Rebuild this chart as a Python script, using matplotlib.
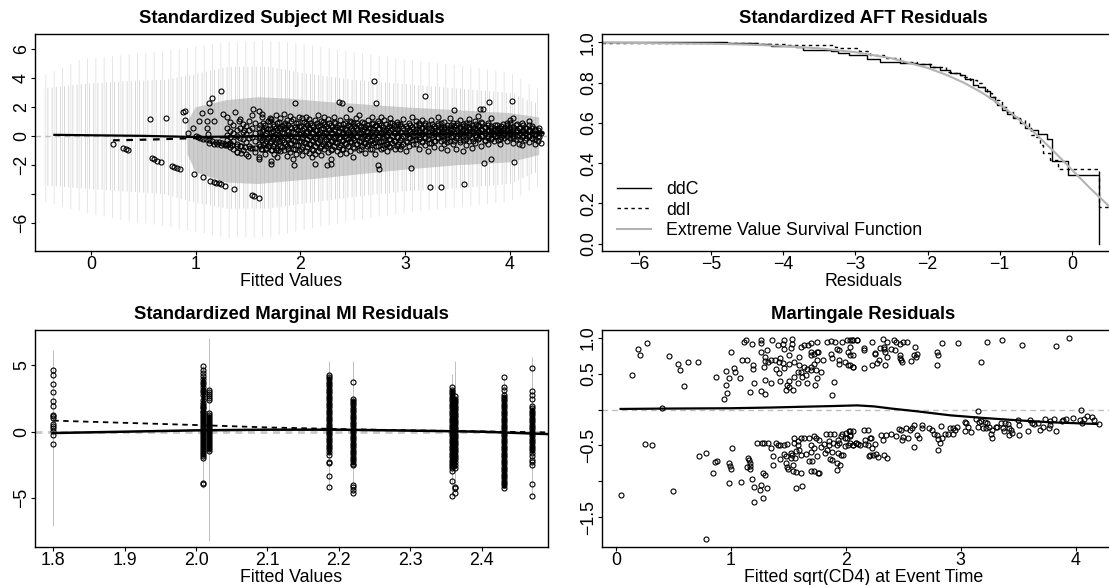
import numpy as np
import matplotlib
matplotlib.use('Agg')
import matplotlib.pyplot as plt

plt.rcParams['font.family'] = ['Liberation Sans', 'DejaVu Sans']
plt.rcParams['hatch.linewidth'] = 0.6
FS = 12.8
GREY = '#bebebe'

# ---------------- 1. Subject MI residuals (top left) ----------------
# grey imputed residual cloud, read as envelopes
cloud_x = [-0.45, -0.1, 0.3, 0.7, 1.0, 1.3, 1.7, 2.0, 2.5, 3.0, 3.5, 4.0, 4.28]
outer_lo = [-4.5, -5.2, -5.8, -6.2, -6.6, -7.0, -7.0, -6.5, -5.8, -5.3, -4.9, -4.5, -3.4]
outer_hi = [4.2, 5.3, 5.6, 5.9, 6.2, 6.5, 6.6, 6.4, 5.8, 5.3, 4.9, 4.4, 3.2]
mid_lo = [-3.4, -3.6, -3.8, -4.0, -4.6, -5.0, -5.0, -4.7, -4.2, -3.8, -3.6, -3.3, -2.4]
mid_hi = [3.3, 3.6, 3.8, 3.9, 4.3, 4.8, 4.8, 4.4, 3.9, 3.6, 3.3, 3.0, 2.2]
core_x = [0.92, 1.0, 1.3, 1.6, 1.9, 2.2, 2.6, 3.0, 3.5, 4.0, 4.28]
core_lo = [-1.2, -2.5, -3.2, -3.3, -3.1, -2.9, -2.6, -2.3, -2.0, -1.8, -1.3]
core_hi = [1.0, 2.0, 2.5, 2.7, 2.6, 2.4, 2.2, 2.0, 1.8, 1.6, 1.3]

# observed residual blob, one x per column
blob_x = [1.30, 1.33, 1.36, 1.39, 1.42, 1.45, 1.48, 1.51, 1.54, 1.57,
          1.60, 1.63, 1.66, 1.69, 1.72, 1.75, 1.78, 1.81, 1.84, 1.87,
          1.90, 1.93, 1.96, 1.99, 2.02, 2.05, 2.08, 2.11, 2.14, 2.17,
          2.20, 2.23, 2.26, 2.29, 2.32, 2.35, 2.38, 2.41, 2.44, 2.47,
          2.50, 2.53, 2.56, 2.59, 2.62, 2.65, 2.68, 2.71, 2.74, 2.77,
          2.80, 2.83, 2.86, 2.89, 2.92, 2.95, 2.98, 3.01, 3.04, 3.07,
          3.10, 3.13, 3.16, 3.19, 3.22, 3.25, 3.28, 3.31, 3.34, 3.37,
          3.40, 3.43, 3.46, 3.49, 3.52, 3.55, 3.58, 3.61, 3.64, 3.67,
          3.70, 3.73, 3.76, 3.79, 3.82, 3.85, 3.88, 3.91, 3.94, 3.97,
          4.00, 4.03, 4.06, 4.09, 4.12, 4.15, 4.18, 4.21, 4.24, 4.27, 4.30]
blob_y = [
    [0.55, 0.10, -0.25, -0.60], [1.00, 0.35, -0.05, -0.45, -0.75], [0.80, 0.20, -0.30, -0.85],
    [0.45, 0.05, -0.55, -1.06], [1.20, 0.60, -0.15, -0.70], [0.30, -0.20, -0.95, 0.85],
    [0.70, 0.15, -0.40, -1.25], [1.05, 0.40, -0.10, -0.65], [0.55, -0.05, -0.80, 1.45],
    [0.90, 0.25, -0.35, -1.10], [0.60, 0.05, -0.55, -1.45], [1.30, 0.35, -0.25, -0.90],
    [0.80, 0.10, -0.45, -1.20], [0.50, -0.15, -0.70, 1.05], [1.20, 0.30, -0.30, -0.95, -1.70],
    [0.70, 0.00, -0.55, -1.25], [0.95, 0.40, -0.20, -0.80, -1.45], [1.25, 0.55, -0.05, -0.65, -1.05],
    [0.80, 0.20, -0.40, -0.95, 1.55], [1.10, 0.45, -0.15, -0.70, -1.35], [0.65, 0.05, -0.50, -1.10, 1.40],
    [1.20, 0.30, -0.25, -0.85, -1.55], [0.90, 0.50, -0.05, -0.60, -1.20], [1.35, 0.70, 0.15, -0.35, -0.95],
    [1.25, 0.40, -0.15, -0.75, -1.30], [0.95, 0.25, -0.45, -1.00, 1.30], [1.20, 0.60, 0.00, -0.55, -1.15],
    [0.80, 0.30, -0.25, -0.85, -1.45], [1.10, 0.45, -0.10, -0.65, -1.20], [0.70, 0.15, -0.40, -1.00, 1.45],
    [1.05, 0.50, -0.05, -0.70, -1.30], [0.85, 0.25, -0.30, -0.90, 1.30], [1.20, 0.60, 0.05, -0.50, -1.10],
    [0.75, 0.20, -0.35, -0.95, -1.55], [1.00, 0.40, -0.15, -0.70, 1.35], [0.65, 0.10, -0.45, -1.05],
    [1.15, 0.55, -0.05, -0.60, -1.25], [0.85, 0.30, -0.25, -0.85], [1.30, 0.45, -0.10, -0.55, -1.15],
    [0.70, 0.15, -0.40, -1.00, 1.05], [0.95, 0.40, -0.15, -0.75, -1.40], [1.25, 0.60, 0.05, -0.50],
    [0.80, 0.25, -0.30, -0.95, 1.45], [1.00, 0.45, -0.10, -0.65], [0.65, 0.10, -0.45, -1.15],
    [1.15, 0.55, 0.00, -0.55], [0.85, 0.30, -0.25, -0.85, 1.35], [0.70, 0.15, -0.40, -1.20],
    [1.05, 0.50, -0.05, -0.70], [0.80, 0.25, -0.30, -0.90, 1.30], [1.10, 0.45, -0.10, -0.60],
    [0.60, 0.05, -0.50, -1.05], [0.95, 0.40, -0.20, -0.75, 1.25], [0.75, 0.20, -0.35],
    [1.00, 0.50, -0.05, -0.65], [0.85, 0.30, -0.25, -0.90], [1.20, 0.55, 0.05, -0.50],
    [0.70, 0.20, -0.35, -1.00], [0.95, 0.45, -0.10, -0.70], [0.65, 0.25, -0.25, 1.30],
    [1.05, 0.50, 0.00, -0.55], [0.80, 0.30, -0.20, -0.85], [0.60, 0.15, -0.40, 1.15],
    [0.95, 0.45, -0.05, -0.60], [0.75, 0.30, -0.20, -1.00], [1.10, 0.55, 0.10, -0.45],
    [0.70, 0.25, -0.30, -0.75], [0.90, 0.40, -0.05, 1.30], [0.65, 0.20, -0.35, -0.80],
    [1.00, 0.50, 0.05, -0.50], [0.80, 0.35, -0.15, -0.95], [0.60, 0.20, -0.30, 1.25],
    [0.95, 0.50, 0.05, -0.55], [0.75, 0.30, -0.15, -0.85], [1.15, 0.55, 0.15, -0.40],
    [0.70, 0.25, -0.25, -1.05], [0.90, 0.45, 0.00, -0.60], [1.20, 0.65, 0.20, -0.30],
    [0.80, 0.35, -0.15, -0.80], [1.05, 0.55, 0.10, -0.45], [0.75, 0.30, -0.20, 1.40],
    [1.00, 0.50, 0.05, -0.65], [0.65, 0.25, -0.25], [0.90, 0.45, 0.00, -0.50],
    [0.70, 0.30, -0.15, 1.25], [0.55, 0.15, -0.35], [0.80, 0.40, 0.05],
    [0.60, 0.25, -0.20, -0.55], [0.85, 0.45, 0.10], [0.50, 0.20, -0.30, 0.95],
    [1.10, 0.65, 0.30, -0.10], [1.25, 0.40, 0.05, -0.45], [0.75, 0.30, -0.20],
    [0.55, 0.10, -0.50], [0.90, 0.35, -0.05, -0.60], [0.60, 0.20, -0.25],
    [1.05, 0.45, 0.00, -0.40], [0.70, 0.25, -0.15], [0.50, 0.10, -0.55],
    [0.40, 0.00, -0.35], [0.25, -0.45]]

# second pass of blob columns (the blob is denser than one pass shows)
blob2_x = [1.615, 1.645, 1.675, 1.705, 1.735, 1.765, 1.795, 1.825, 1.855, 1.885,
           1.915, 1.945, 1.975, 2.005, 2.035, 2.065, 2.095, 2.125, 2.155, 2.185,
           2.215, 2.245, 2.275, 2.305, 2.335, 2.365, 2.395, 2.425, 2.455, 2.485,
           2.515, 2.545, 2.575, 2.605, 2.635, 2.665, 2.695, 2.725, 2.755, 2.785,
           2.815, 2.845, 2.875, 2.905, 2.935, 2.965]
blob2_y = [
    [0.75, 0.30, -0.15, -0.65], [0.95, 0.45, -0.05, -0.50], [0.60, 0.20, -0.35, -0.80],
    [1.05, 0.50, 0.05, -0.45], [0.85, 0.35, -0.15, -0.70], [0.55, 0.15, -0.40, -0.95],
    [1.00, 0.60, 0.10, -0.30], [0.70, 0.25, -0.25, -0.75], [0.95, 0.55, 0.00, -0.50],
    [0.80, 0.35, -0.20, -0.85], [1.05, 0.55, 0.05, -0.45], [0.65, 0.20, -0.35, -0.90],
    [0.90, 0.45, -0.05, -0.60], [0.70, 0.25, -0.30, -0.85], [1.00, 0.55, 0.10, -0.40],
    [0.75, 0.35, -0.20, -0.75], [0.95, 0.50, 0.00, -0.55], [0.65, 0.20, -0.35, -0.95],
    [0.90, 0.45, 0.05, -0.45], [0.75, 0.30, -0.25, -0.80], [1.00, 0.55, 0.10, -0.50],
    [0.70, 0.25, -0.20, -0.70], [0.90, 0.45, -0.05, -0.55], [0.65, 0.20, -0.30, -0.85],
    [0.95, 0.50, 0.05, -0.40], [0.80, 0.35, -0.15, -0.75], [0.60, 0.15, -0.35, -0.90],
    [0.95, 0.50, 0.05, -0.45], [0.75, 0.30, -0.20, -0.65], [1.00, 0.55, 0.10, -0.35],
    [0.70, 0.25, -0.25, -0.80], [0.90, 0.45, 0.00, -0.55], [0.65, 0.20, -0.35, -0.85],
    [0.95, 0.50, 0.05, -0.45], [0.80, 0.35, -0.15, -0.70], [0.60, 0.15, -0.30, -0.90],
    [0.90, 0.50, 0.05, -0.45], [0.75, 0.30, -0.20, -0.65], [0.95, 0.55, 0.10, -0.40],
    [0.65, 0.20, -0.30, -0.80], [0.85, 0.45, 0.00, -0.55], [0.70, 0.30, -0.20, -0.70],
    [0.95, 0.50, 0.05, -0.45], [0.60, 0.20, -0.30, -0.85], [0.85, 0.40, -0.05, -0.55],
    [0.70, 0.30, -0.15, -0.70]]
blob3_x = [3.015, 3.045, 3.075, 3.105, 3.135, 3.165, 3.195, 3.225, 3.255, 3.285,
           3.315, 3.345, 3.375, 3.405, 3.435, 3.465, 3.495, 3.525, 3.555, 3.585,
           3.615, 3.645, 3.675, 3.705, 3.735, 3.765, 3.795, 3.825, 3.855, 3.885,
           3.915, 3.945, 3.975, 4.005, 4.035, 4.065, 4.095, 4.125, 4.155, 4.185,
           4.215, 4.245, 4.275]
blob3_y = [
    [0.60, 0.15, -0.40], [0.80, 0.35, -0.15], [0.50, 0.05, -0.50], [0.75, 0.30, -0.20],
    [0.95, 0.45, -0.05], [0.60, 0.20, -0.35], [0.80, 0.35, -0.10], [0.55, 0.10, -0.45],
    [0.85, 0.40, -0.05], [0.60, 0.20, -0.30], [0.75, 0.35, -0.15], [0.90, 0.50, 0.00],
    [0.65, 0.25, -0.25], [0.55, 0.10, -0.40], [0.80, 0.40, -0.05], [0.70, 0.25, -0.30],
    [0.90, 0.50, 0.05], [0.65, 0.20, -0.25], [0.85, 0.45, 0.00], [0.70, 0.30, -0.20],
    [0.95, 0.50, 0.10], [0.60, 0.25, -0.30], [0.85, 0.40, -0.05], [0.70, 0.30, -0.15],
    [0.90, 0.45, 0.05], [0.55, 0.20, -0.30], [0.75, 0.35, -0.10], [0.60, 0.25, -0.20],
    [0.80, 0.40, 0.00], [0.55, 0.20, -0.25], [0.70, 0.35, -0.05], [0.60, 0.25, -0.15],
    [0.80, 0.40, 0.05], [0.95, 0.50, 0.15], [0.65, 0.25, -0.15], [0.85, 0.45, 0.05],
    [0.60, 0.25, -0.20], [0.75, 0.40, 0.00], [0.55, 0.20, -0.15], [0.80, 0.35, 0.05],
    [0.60, 0.25, -0.10], [0.45, 0.15, -0.20], [0.55, 0.20, -0.05]]

# scattered observed residuals outside the blob
subj_pts = [(0.21, -0.55), (0.31, -0.81), (0.33, -0.90), (0.35, -0.95), (0.56, 1.18), (0.72, 1.27),
            (0.58, -1.52), (0.60, -1.59), (0.63, -1.68), (0.67, -1.75),
            (0.77, -2.05), (0.79, -2.14), (0.82, -2.21), (0.85, -2.28),
            (0.98, -2.60), (1.07, -2.83), (1.14, -3.06), (1.17, -3.13), (1.19, -3.20), (1.22, -3.25),
            (1.24, -3.29), (1.28, -3.41), (1.37, -3.64), (1.54, -4.08), (1.56, -4.10), (1.60, -4.29),
            (1.24, 3.13), (1.16, 2.65), (1.13, 2.28), (0.88, 1.70), (0.90, 1.77), (0.90, 1.13),
            (0.97, 0.60), (0.93, 0.21), (1.03, 1.04), (1.06, 1.64), (1.14, 1.75), (1.11, 1.04),
            (1.17, 1.08), (1.11, 0.55), (1.12, 0.16), (1.02, -0.07), (1.00, 0.02),
            (1.04, -0.12), (1.07, -0.17), (1.10, -0.22), (1.13, -0.27), (1.16, -0.32), (1.19, -0.37),
            (1.22, -0.41), (1.25, -0.46), (1.28, -0.51), (1.31, -0.56), (1.35, -0.60), (1.39, -0.65),
            (1.43, -0.70), (1.47, -0.75), (1.52, -0.79), (1.57, -0.83), (1.62, -0.87), (1.67, -0.90),
            (1.73, -0.93), (1.79, -0.96), (1.13, -0.47), (1.17, -0.50), (1.20, -0.55), (1.24, -0.58),
            (1.28, -0.62), (1.39, -1.06), (1.43, -1.13), (1.50, -1.34), (1.60, -1.59), (1.72, -1.94),
            (1.26, 1.54), (1.30, 1.31), (1.38, 1.70), (1.41, 1.08), (1.55, 1.91), (1.60, 1.77),
            (1.63, 1.54), (1.71, 1.24), (1.77, 1.47), (1.46, 0.44),
            (2.70, 3.82), (2.72, 2.33), (1.95, 2.28), (2.37, 2.40), (2.40, 2.33), (2.47, 1.89),
            (3.19, 2.79), (3.80, 2.35), (4.02, 2.44), (3.72, 1.89), (3.74, 1.89), (3.47, 1.82),
            (4.04, -1.75), (3.56, -3.29), (3.24, -3.48), (3.34, -3.48), (3.06, -2.21), (2.74, -1.98),
            (2.75, -2.28), (1.94, -2.00), (2.14, -1.89), (2.25, -1.98), (2.29, -1.91), (3.75, -1.87),
            (3.82, -1.59)]

subj_fit_x = [-0.35, 0.0, 0.5, 1.0, 1.5, 2.0, 2.5, 3.0, 3.5, 4.0, 4.32]
subj_fit_y = [0.10, 0.07, 0.03, -0.05, 0.00, 0.05, 0.10, 0.14, 0.18, 0.21, 0.23]
subj_dash_x = [0.21, 0.6, 1.0, 1.5, 2.0, 2.5, 3.0, 3.5, 4.0, 4.32]
subj_dash_y = [-0.28, -0.22, -0.12, -0.02, 0.05, 0.10, 0.14, 0.18, 0.21, 0.23]

# ---------------- 2. AFT residual survival curves (top right) ----------------
ddc_x = [-6.52, -4.78, -4.37, -4.17, -3.83, -3.73, -3.34, -3.24, -3.09, -2.84, -2.66, -2.38,
         -2.15, -1.97, -1.83, -1.69, -1.55, -1.48, -1.37, -1.30, -1.25, -1.20, -1.13, -1.07,
         -1.04, -0.97, -0.90, -0.81, -0.72, -0.65, -0.56, -0.47, -0.35, -0.28, -0.05, 0.38]
ddc_y = [1.000, 0.995, 0.990, 0.982, 0.975, 0.962, 0.955, 0.945, 0.937, 0.915, 0.904, 0.899,
         0.891, 0.876, 0.863, 0.850, 0.838, 0.817, 0.789, 0.780, 0.777, 0.756, 0.731, 0.706,
         0.690, 0.665, 0.645, 0.624, 0.599, 0.574, 0.566, 0.545, 0.520, 0.409, 0.343, 0.000]
ddi_x = [-6.52, -4.34, -3.97, -3.29, -3.24, -2.95, -2.80, -2.61, -2.38, -2.15, -1.92, -1.74,
         -1.64, -1.55, -1.50, -1.41, -1.32, -1.25, -1.18, -1.11, -1.04, -0.97, -0.90, -0.81,
         -0.72, -0.65, -0.60, -0.56, -0.49, -0.44, -0.40, -0.30, -0.19, 0.38, 0.75]
ddi_y = [0.997, 0.990, 0.985, 0.975, 0.970, 0.955, 0.937, 0.920, 0.904, 0.891, 0.876, 0.855,
         0.846, 0.838, 0.830, 0.813, 0.797, 0.780, 0.747, 0.731, 0.714, 0.681, 0.656, 0.631,
         0.615, 0.599, 0.574, 0.541, 0.532, 0.491, 0.450, 0.417, 0.370, 0.185, 0.185]
ev_x = [-6.6, -5.0, -4.5, -4.0, -3.5, -3.0, -2.5, -2.0, -1.75, -1.5, -1.25, -1.0,
        -0.75, -0.5, -0.25, 0.0, 0.25, 0.5, 0.75]
ev_y = [0.999, 0.993, 0.989, 0.982, 0.970, 0.951, 0.921, 0.873, 0.840, 0.800, 0.751, 0.692,
        0.623, 0.545, 0.459, 0.368, 0.277, 0.192, 0.120]

# ---------------- 3. Marginal MI residuals (bottom left) ----------------
col_x = [1.800, 2.010, 2.018, 2.186, 2.220, 2.358, 2.363, 2.432, 2.470]
col_lo = [-7.1, -4.2, -8.2, -4.2, -4.6, -4.9, -4.6, -4.2, -4.8]
col_hi = [6.15, 5.0, 7.0, 5.3, 5.3, 4.3, 5.3, 4.1, 5.6]
col_y = [
    [4.65, 4.28, 3.60, 2.95, 2.28, 1.90, 1.28, 1.15, 1.03, 0.58, 0.40, 0.28, 0.03, -0.28, -0.90],
    [4.90, 4.66, 4.43, 4.18, 3.97, 3.74, 3.56, 3.33, 3.14, 2.96, 2.79, 2.36, 2.19, 2.03, 1.88,
     1.74, 1.58, 1.44, 1.29, 1.16, 0.99, 0.86, 0.71, 0.54, 0.41, 0.24, 0.11, -0.04, -0.21,
     -0.34, -0.51, -0.66, -0.79, -0.96, -1.11, -1.24, -1.41, -1.56, -1.69, -1.86, -1.98,
     -3.85, -3.91],
    [3.15, 3.01, 2.84, 2.71, 2.56, 2.40, 1.40, 1.26, 1.09, 0.96, 0.81, 0.64, 0.51, 0.34, 0.21,
     0.04, -0.11, -0.24, -0.41, -0.56, -0.69, -0.86, -1.01, -1.14, -1.31, -1.48],
    [4.28, 4.11, 3.93, 3.74, 3.58, 3.41, 3.22, 3.06, 2.87, 2.71, 2.52, 2.36, 2.17, 2.01, 1.83,
     1.64, 1.48, 1.31, 1.12, 0.96, 0.77, 0.61, 0.42, 0.26, 0.07, -0.09, -0.28, -0.44, -0.63,
     -0.79, -0.98, -1.14, -1.33, -1.49, -1.73, -2.28, -2.33, -3.35, -4.18],
    [3.70, 2.48, 2.31, 2.16, 1.97, 1.81, 1.62, 1.46, 1.27, 1.11, 0.92, 0.76, 0.57, 0.41, 0.22,
     0.06, -0.13, -0.29, -0.48, -0.64, -0.83, -0.99, -1.18, -1.34, -1.53, -1.69, -1.88, -2.04,
     -2.23, -2.39, -2.53, -3.98, -4.18, -4.40, -4.60],
    [3.33, 3.16, 2.97, 2.81, 2.62, 2.46, 2.27, 2.11, 1.92, 1.76, 1.57, 1.41, 1.22, 1.06, 0.87,
     0.71, 0.52, 0.36, 0.17, 0.01, -0.18, -0.34, -0.53, -0.69, -0.88, -1.04, -1.23, -1.39,
     -1.58, -1.74, -1.93, -2.09, -2.28, -2.44, -2.61, -2.73, -2.95, -3.68, -4.85],
    [2.65, 2.47, 2.31, 2.12, 1.96, 1.77, 1.61, 1.42, 1.26, 1.07, 0.91, 0.72, 0.56, 0.37, 0.21,
     0.02, -0.14, -0.33, -0.49, -0.68, -0.84, -1.03, -1.19, -1.38, -1.54, -1.73, -1.89, -2.08,
     -2.24, -2.48, -2.75, -4.18, -4.25, -4.60],
    [4.10, 3.35, 3.15, 2.78, 2.61, 2.46, 2.27, 2.11, 1.92, 1.76, 1.57, 1.41, 1.22, 1.06, 0.87,
     0.71, 0.52, 0.36, 0.17, 0.01, -0.18, -0.34, -0.53, -0.69, -0.88, -1.04, -1.23, -1.39,
     -1.58, -1.74, -1.93, -2.09, -2.28, -2.44, -2.63, -2.79, -2.98, -3.14, -3.33, -3.49,
     -3.68, -3.84, -4.03, -4.23],
    [4.80, 3.08, 2.78, 2.48, 1.90, 1.74, 1.57, 1.41, 1.22, 1.06, 0.87, 0.71, 0.52, 0.36, 0.17,
     0.01, -0.18, -0.34, -0.53, -0.69, -0.88, -1.04, -1.23, -1.39, -1.58, -1.85, -2.10, -2.30,
     -2.48, -3.93, -4.80]]
# stretches where the circles of a column overlap into a solid bar
dense_x = [2.010, 2.018, 2.186, 2.220, 2.358, 2.363, 2.432, 2.470]
dense_lo = [-1.90, -1.45, -1.70, -2.50, -2.70, -2.70, -4.20, -1.60]
dense_hi = [4.10, 1.35, 4.20, 2.45, 3.20, 2.60, 2.75, 1.85]
marg_fit_x = [1.8, 1.9, 2.0, 2.1, 2.2, 2.3, 2.4, 2.493]
marg_fit_y = [-0.10, 0.00, 0.10, 0.15, 0.15, 0.08, 0.00, -0.18]
marg_dash_x = [1.8, 2.0, 2.1, 2.2, 2.3, 2.4, 2.493]
marg_dash_y = [0.83, 0.50, 0.32, 0.20, 0.10, 0.02, -0.05]

# ---------------- 4. Martingale residuals (bottom right) ----------------
mart_pts = [
    (0.27, 0.93), (0.19, 0.85), (0.21, 0.77), (0.14, 0.49), (0.46, 0.75), (0.54, 0.64), (0.56, 0.56),
    (0.63, 0.66), (0.71, 0.66), (0.59, 0.33), (0.40, 0.03), (0.87, 0.46), (0.94, 0.15), (0.96, 0.35),
    (0.97, 0.23), (0.96, 0.54), (1.00, 0.80), (0.98, 0.44), (1.03, 0.58), (1.04, 0.52), (1.08, 0.44),
    (1.10, 0.69), (1.14, 0.69), (1.11, 0.94), (1.13, 0.97), (1.18, 0.92), (1.19, 0.62), (1.19, 0.57),
    (1.20, 0.37), (1.17, 0.25), (1.26, 0.26), (1.30, 0.22), (1.26, 0.98), (1.26, 0.93), (1.36, 0.98),
    (1.31, 0.83), (1.26, 0.81), (1.30, 0.73), (1.30, 0.68), (1.29, 0.60), (1.32, 0.66), (1.35, 0.69),
    (1.38, 0.69), (1.42, 0.67), (1.41, 0.90), (1.45, 0.92), (1.46, 0.98), (1.53, 0.99), (1.53, 0.92),
    (1.52, 0.86), (1.46, 0.85), (1.51, 0.77), (1.59, 0.74), (1.61, 0.87), (1.64, 0.90), (1.67, 0.91),
    (1.70, 0.93), (1.75, 0.94), (1.75, 0.80), (1.72, 0.78), (1.70, 0.77), (1.75, 0.69), (1.80, 0.70),
    (1.84, 0.95), (1.87, 0.96), (1.91, 0.94), (1.97, 0.95), (2.01, 0.97), (2.05, 0.98), (2.10, 0.97),
    (1.92, 0.85), (1.94, 0.83), (2.02, 0.80), (2.06, 0.77), (1.87, 0.78), (1.88, 0.72), (1.94, 0.70),
    (1.94, 0.64), (1.99, 0.67), (2.02, 0.63), (2.06, 0.60), (1.39, 0.57), (1.42, 0.51), (1.43, 0.40),
    (1.49, 0.35), (1.51, 0.31), (1.55, 0.46), (1.58, 0.53), (1.62, 0.45), (1.65, 0.49), (1.66, 0.57),
    (1.70, 0.55), (1.70, 0.59), (1.74, 0.56), (1.78, 0.53), (1.75, 0.44), (1.73, 0.35), (1.66, 0.37),
    (1.58, 0.37), (1.54, 0.27), (1.51, 0.40), (1.48, 0.28), (1.30, 0.42), (1.35, 0.37), (1.90, 0.38),
    (1.88, 0.20), (1.59, 0.62), (1.64, 0.60), (1.51, 0.64), (1.55, 0.67), (1.45, 0.65), (1.43, 0.72),
    (1.46, 0.58), (1.61, 0.53), (1.72, 0.64), (1.70, 0.81), (1.76, 0.81),
    (2.04, 0.97), (2.06, 0.97), (2.10, 0.97), (2.04, 0.88), (2.04, 0.77), (2.04, 0.62), (2.06, 0.60),
    (2.16, 0.86), (2.16, 0.84), (2.16, 0.58), (2.23, 0.95), (2.25, 0.79), (2.25, 0.78), (2.23, 0.63),
    (2.27, 0.65), (2.29, 0.70), (2.30, 0.86), (2.32, 0.99), (2.33, 0.88), (2.33, 0.85), (2.34, 0.81),
    (2.34, 0.63), (2.36, 0.95), (2.36, 0.73), (2.39, 0.85), (2.42, 0.97), (2.43, 0.83), (2.44, 0.94),
    (2.47, 0.92), (2.50, 0.94), (2.53, 0.95), (2.47, 0.77), (2.48, 0.70), (2.49, 0.67), (2.47, 0.72),
    (2.57, 0.68), (2.59, 0.76), (2.60, 0.88), (2.61, 0.73), (2.62, 0.78), (2.79, 0.81), (2.80, 0.76),
    (2.79, 0.63), (2.84, 0.93), (2.98, 0.93), (3.18, 0.67), (3.23, 0.94), (3.36, 0.97), (3.53, 0.90),
    (3.83, 0.89), (3.94, 1.00),
    (0.25, -0.48), (0.31, -0.50), (0.04, -1.19), (0.50, -1.13), (0.78, -1.81), (0.72, -0.65),
    (0.78, -0.61), (0.86, -0.73), (0.88, -0.72), (0.84, -0.89), (0.98, -0.74), (0.99, -0.79),
    (1.00, -0.83), (0.98, -1.02), (1.01, -0.53), (1.09, -1.01), (1.14, -0.80), (1.15, -0.68),
    (1.16, -0.71), (1.17, -0.74), (1.17, -0.78), (1.17, -0.83), (1.18, -0.97), (1.20, -1.08),
    (1.25, -1.12), (1.26, -1.05), (1.20, -1.29), (1.28, -1.23), (1.31, -1.09), (1.23, -0.47),
    (1.27, -0.46), (1.29, -0.46), (1.32, -0.46), (1.28, -0.88), (1.30, -0.91), (1.37, -0.65),
    (1.37, -0.77), (1.39, -0.47), (1.41, -0.50), (1.43, -0.49), (1.46, -0.49), (1.49, -0.48),
    (1.55, -0.40), (1.58, -0.44), (1.61, -0.40), (1.64, -0.39), (1.68, -0.39), (1.72, -0.37),
    (1.74, -0.39), (1.77, -0.43), (1.83, -0.34), (1.86, -0.34), (1.90, -0.34), (1.97, -0.34),
    (2.00, -0.32), (2.03, -0.30), (2.04, -0.35), (2.09, -0.46), (2.06, -0.49), (2.02, -0.50),
    (1.99, -0.51), (1.94, -0.47), (1.92, -0.49), (1.85, -0.49), (1.81, -0.48), (1.78, -0.52),
    (1.72, -0.53), (1.70, -0.49), (1.75, -0.65), (1.70, -0.59), (1.65, -0.62), (1.61, -0.63),
    (1.56, -0.68), (1.54, -0.77), (1.50, -0.83), (1.49, -0.80), (1.53, -0.64), (1.57, -0.58),
    (1.59, -0.57), (1.46, -0.62), (1.48, -0.65), (1.52, -0.68), (1.43, -0.69), (1.48, -0.74),
    (1.54, -0.85), (1.57, -0.87), (1.61, -0.89), (1.70, -0.85), (1.72, -0.86), (1.68, -0.72),
    (1.71, -0.72), (1.76, -0.89), (1.77, -0.89), (1.86, -0.69), (1.88, -0.71), (1.92, -0.74),
    (1.95, -0.77), (1.92, -0.84), (1.88, -0.59), (1.93, -0.61), (1.96, -0.64), (1.98, -0.64),
    (1.84, -0.56), (1.82, -0.61), (1.85, -0.44), (1.89, -0.47), (1.93, -0.43), (1.96, -0.37),
    (1.99, -0.40), (2.01, -0.40), (1.57, -1.09), (1.62, -1.07), (1.52, -0.60), (1.35, -0.54),
    (1.58, -0.50), (1.55, -0.47),
    (2.04, -0.30), (2.04, -0.37), (2.06, -0.30), (2.04, -0.47), (2.06, -0.49), (2.09, -0.47),
    (2.11, -0.48), (2.12, -0.49), (2.17, -0.42), (2.16, -0.29), (2.19, -0.29), (2.17, -0.48),
    (2.19, -0.49), (2.21, -0.39), (2.22, -0.40), (2.23, -0.54), (2.25, -0.48), (2.20, -0.65),
    (2.21, -0.63), (2.24, -0.64), (2.26, -0.62), (2.28, -0.66), (2.33, -0.64), (2.36, -0.67),
    (2.31, -0.36), (2.32, -0.42), (2.35, -0.36), (2.39, -0.34), (2.44, -0.37), (2.46, -0.27),
    (2.48, -0.28), (2.49, -0.42), (2.50, -0.38), (2.52, -0.26), (2.54, -0.40), (2.56, -0.28),
    (2.58, -0.25), (2.59, -0.22), (2.59, -0.52), (2.62, -0.35), (2.64, -0.40), (2.66, -0.21),
    (2.66, -0.26), (2.72, -0.25), (2.75, -0.29), (2.77, -0.34), (2.79, -0.36), (2.83, -0.23),
    (2.80, -0.41), (2.84, -0.40), (2.82, -0.46), (2.86, -0.34), (2.89, -0.34), (2.91, -0.26),
    (2.93, -0.25), (2.95, -0.28), (2.97, -0.24), (2.80, -0.56), (2.93, -0.34), (3.04, -0.17),
    (3.05, -0.19), (3.06, -0.24), (3.04, -0.30), (3.09, -0.31), (3.15, -0.02), (3.13, -0.13),
    (3.16, -0.17), (3.18, -0.16), (3.21, -0.17), (3.23, -0.18), (3.15, -0.24), (3.19, -0.26),
    (3.22, -0.25), (3.25, -0.24), (3.27, -0.29), (3.26, -0.34), (3.27, -0.39), (3.31, -0.24),
    (3.32, -0.24), (3.35, -0.18), (3.37, -0.26), (3.38, -0.30), (3.39, -0.19), (3.41, -0.20),
    (3.42, -0.25), (3.44, -0.28), (3.45, -0.32), (3.42, -0.36), (3.51, -0.35), (3.50, -0.15),
    (3.51, -0.22), (3.59, -0.30), (3.60, -0.15), (3.62, -0.18), (3.64, -0.20), (3.67, -0.18),
    (3.69, -0.29), (3.72, -0.24), (3.73, -0.13), (3.77, -0.25), (3.78, -0.21), (3.78, -0.16),
    (3.81, -0.13), (3.83, -0.30), (3.88, -0.16), (3.89, -0.15), (3.92, -0.13), (3.98, -0.11),
    (4.05, -0.01), (4.04, -0.15), (4.07, -0.13), (4.10, -0.09), (4.14, -0.10), (4.16, -0.15),
    (4.06, -0.19), (4.20, -0.20)]
mart_fit_x = [0.04, 0.4, 1.0, 1.35, 1.6, 1.87, 2.1, 2.25, 2.4, 2.62, 2.91, 3.2, 3.5, 3.79, 4.19]
mart_fit_y = [0.01, 0.015, 0.02, 0.03, 0.04, 0.05, 0.06, 0.045, 0.015, -0.023, -0.079, -0.116,
              -0.149, -0.177, -0.20]


def style(ax):
    for s in ax.spines.values():
        s.set_linewidth(1.0)
    ax.tick_params(direction='out', length=3, width=0.8, labelsize=FS, pad=0.5)
    ax.tick_params(axis='y', labelrotation=90)
    for lab in ax.get_yticklabels():
        lab.set_va('center')


def circles(ax, x, y):
    ax.plot(x, y, 'o', ms=3.6, mfc='none', mec='black', mew=0.8, zorder=3)


def expand(xs, yss):
    return [x for x, ys in zip(xs, yss) for _ in ys], [y for ys in yss for y in ys]


fig = plt.figure(figsize=(11.09, 5.85), dpi=100)
ax1 = fig.add_axes([0.0313, 0.5709, 0.4628, 0.3705])
ax2 = fig.add_axes([0.5425, 0.5709, 0.4719, 0.3705])
ax3 = fig.add_axes([0.0313, 0.0650, 0.4628, 0.3709])
ax4 = fig.add_axes([0.5425, 0.0650, 0.4719, 0.3709])

# panel 1
ax1.fill_between(cloud_x, outer_lo, outer_hi, facecolor='none', edgecolor='#e2e2e2',
                 hatch='||', linewidth=0, zorder=1)
ax1.fill_between(cloud_x, mid_lo, mid_hi, facecolor='none', edgecolor='#d2d2d2',
                 hatch='||||', linewidth=0, zorder=1)
ax1.fill_between(core_x, core_lo, core_hi, facecolor='#cdcdcd', edgecolor='#bdbdbd',
                 hatch='||||', linewidth=0, zorder=1)
ax1.axhline(0, color=GREY, lw=1.0, dashes=(4, 3), zorder=2)
for xs, yss in ((blob_x, blob_y), (blob2_x, blob2_y), (blob3_x, blob3_y)):
    bx, by = expand(xs, yss)
    circles(ax1, bx, by)
sp = np.array(subj_pts)
circles(ax1, sp[:, 0], sp[:, 1])
ax1.plot(subj_dash_x, subj_dash_y, color='black', lw=1.6, dashes=(3, 3), zorder=4)
ax1.plot(subj_fit_x, subj_fit_y, color='black', lw=1.6, zorder=4)
ax1.set_xlim(-0.538, 4.365)
ax1.set_ylim(-7.93, 7.05)
ax1.set_xticks([0, 1, 2, 3, 4])
ax1.set_yticks([-6, -4, -2, 0, 2, 4, 6])
ax1.set_yticklabels(['\u22126', '', '\u22122', '0', '2', '4', '6'])
ax1.set_title('Standardized Subject MI Residuals', fontsize=13.3, fontweight='bold', pad=8)
ax1.set_xlabel('Fitted Values', fontsize=FS, labelpad=0)

# panel 2
ax2.step(ddc_x, ddc_y, where='post', color='black', lw=1.0, label='ddC')
ax2.step(ddi_x, ddi_y, where='post', color='black', lw=1.0, dashes=(2.5, 2.5), label='ddI')
ax2.plot(ev_x, ev_y, color='#b3b3b3', lw=1.5, label='Extreme Value Survival Function')
ax2.set_xlim(-6.52, 0.737)
ax2.set_ylim(-0.036, 1.04)
ax2.set_xticks([-6, -5, -4, -3, -2, -1, 0])
ax2.set_xticklabels(['\u22126', '\u22125', '\u22124', '\u22123', '\u22122', '\u22121', '0'])
ax2.set_yticks([0.0, 0.2, 0.4, 0.6, 0.8, 1.0])
ax2.set_yticklabels(['0.0', '0.2', '0.4', '0.6', '0.8', '1.0'])
ax2.set_title('Standardized AFT Residuals', fontsize=13.3, fontweight='bold', pad=8)
ax2.set_xlabel('Residuals', fontsize=FS, labelpad=0)
ax2.legend(loc='upper left', bbox_to_anchor=(0.03, 0.323), frameon=False, fontsize=FS,
           handlelength=1.9, handletextpad=0.85, labelspacing=0.2, borderpad=0,
           borderaxespad=0)

# panel 3
ax3.vlines(col_x, col_lo, col_hi, color=GREY, lw=0.7, zorder=1)
ax3.axhline(0, color='#c8c8c8', lw=2.0, dashes=(2.5, 2), zorder=2)
ax3.vlines(dense_x, dense_lo, dense_hi, color='black', lw=2.4, zorder=3)
for x, ys in zip(col_x, col_y):
    circles(ax3, [x] * len(ys), ys)
ax3.plot(marg_dash_x, marg_dash_y, color='black', lw=1.3, dashes=(3, 2.5), zorder=4)
ax3.plot(marg_fit_x, marg_fit_y, color='black', lw=1.8, zorder=4)
ax3.set_xlim(1.774, 2.493)
ax3.set_ylim(-8.65, 7.63)
ax3.set_xticks([1.8, 1.9, 2.0, 2.1, 2.2, 2.3, 2.4])
ax3.set_xticklabels(['1.8', '1.9', '2.0', '2.1', '2.2', '2.3', '2.4'])
ax3.set_yticks([-5, 0, 5])
ax3.set_yticklabels(['\u22125', '0', '5'])
ax3.set_title('Standardized Marginal MI Residuals', fontsize=13.3, fontweight='bold', pad=8)
ax3.set_xlabel('Fitted Values', fontsize=FS, labelpad=0)

# panel 4
ax4.axhline(0, color=GREY, lw=1.0, dashes=(4, 3), zorder=1)
mp = np.array(mart_pts)
circles(ax4, mp[:, 0], mp[:, 1])
ax4.plot(mart_fit_x, mart_fit_y, color='black', lw=1.6, zorder=4)
ax4.set_xlim(-0.125, 4.43)
ax4.set_ylim(-1.918, 1.113)
ax4.set_xticks([0, 1, 2, 3, 4])
ax4.set_yticks([-1.5, -1.0, -0.5, 0.0, 0.5, 1.0])
ax4.set_yticklabels(['\u22121.5', '', '\u22120.5', '', '0.5', '1.0'])
ax4.set_title('Martingale Residuals', fontsize=13.3, fontweight='bold', pad=8)
ax4.set_xlabel('Fitted sqrt(CD4) at Event Time', fontsize=FS, labelpad=0)

for ax in (ax1, ax2, ax3, ax4):
    style(ax)

fig.savefig('out.png', dpi=100)
